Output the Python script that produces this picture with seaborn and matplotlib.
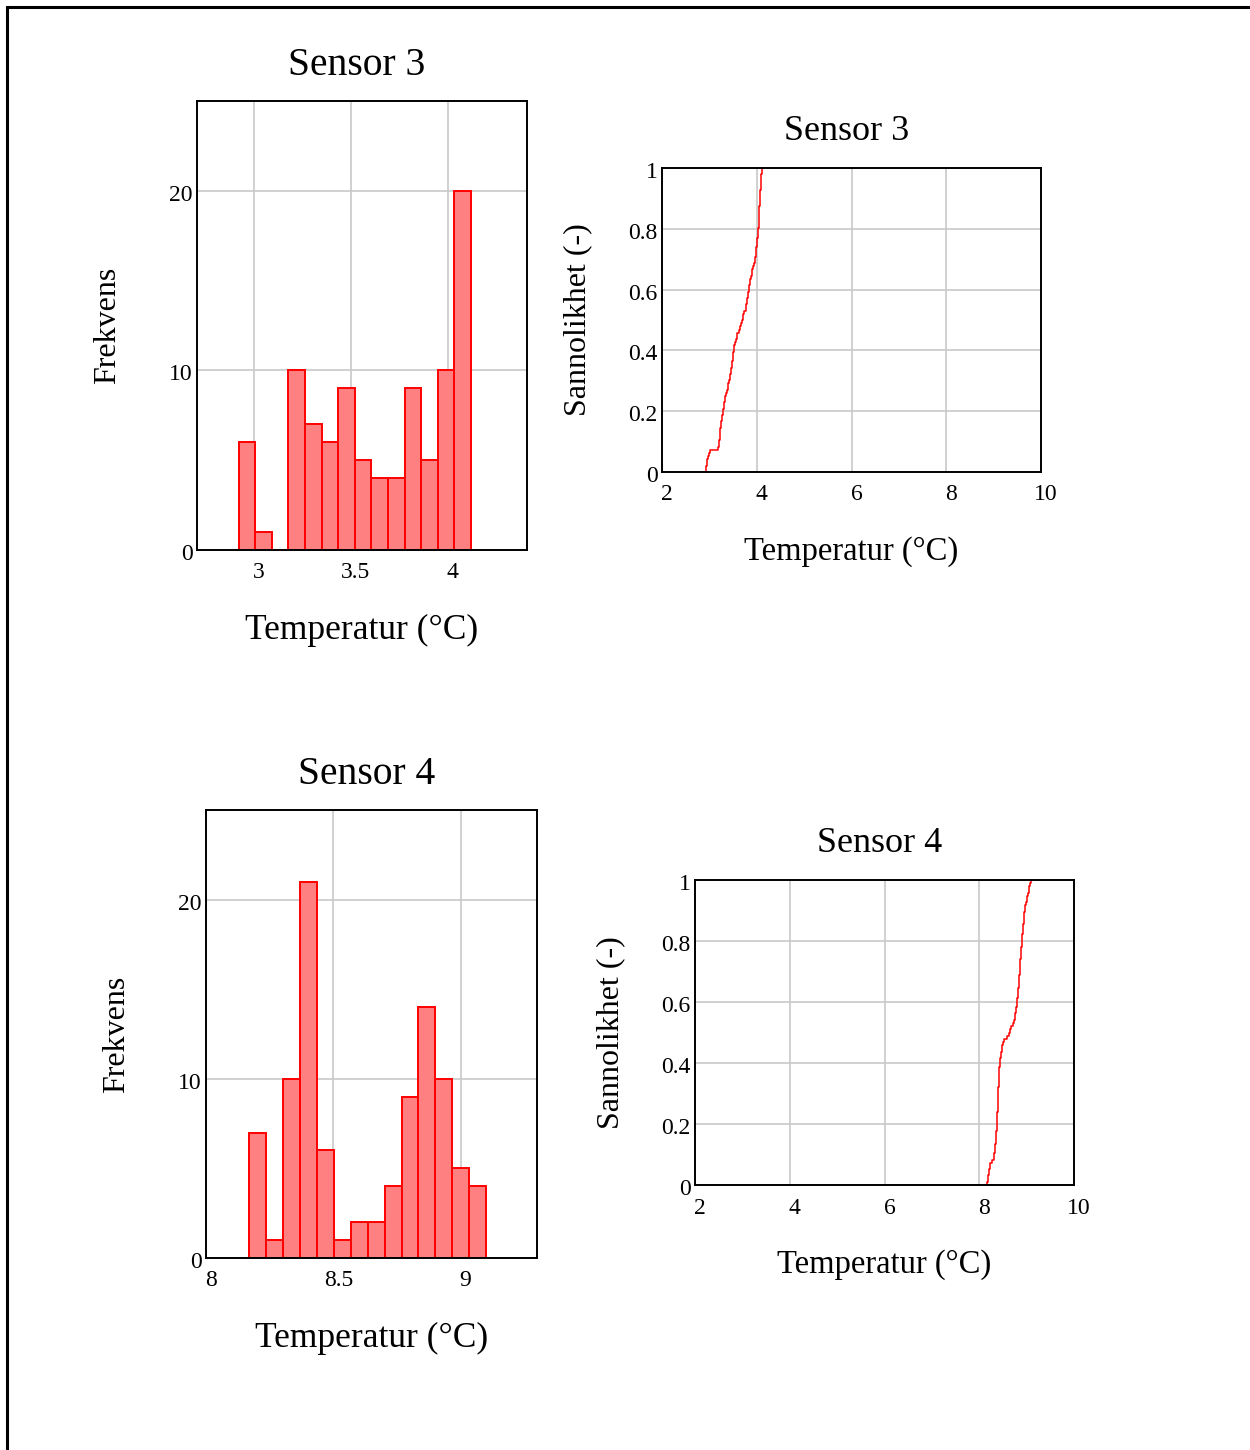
import numpy as np
import pandas as pd
import matplotlib
matplotlib.use("Agg")
import matplotlib.pyplot as plt
import matplotlib.transforms as mtransforms
import seaborn as sns
from matplotlib.ticker import FuncFormatter, FixedLocator
from matplotlib.patches import Rectangle

# ---------------- data ----------------
sensor_names = ["Sensor 3", "Sensor 4"]

sensor3_temps = [
    2.920, 2.935, 2.950, 2.958, 2.975, 2.990,
    3.012,
    3.190, 3.205, 3.210, 3.215, 3.220, 3.225, 3.230, 3.240, 3.250, 3.258,
    3.270, 3.280, 3.290, 3.300, 3.315, 3.330, 3.340,
    3.355, 3.370, 3.385, 3.400, 3.410, 3.425,
    3.440, 3.450, 3.460, 3.470, 3.480, 3.490, 3.500, 3.505, 3.515,
    3.530, 3.545, 3.560, 3.575, 3.590,
    3.620, 3.640, 3.660, 3.680,
    3.700, 3.720, 3.740, 3.765,
    3.780, 3.790, 3.800, 3.810, 3.820, 3.830, 3.840, 3.850, 3.855,
    3.870, 3.890, 3.910, 3.925, 3.940,
    3.955, 3.965, 3.975, 3.985, 3.990, 4.000, 4.010, 4.015, 4.020, 4.030,
    4.036, 4.040, 4.042, 4.045, 4.048, 4.050, 4.055, 4.058, 4.060, 4.065,
    4.070, 4.072, 4.075, 4.080, 4.085, 4.090, 4.095, 4.100, 4.110, 4.120,
]

sensor4_temps = [
    8.170, 8.180, 8.190, 8.200, 8.210, 8.220, 8.230,
    8.270,
    8.310, 8.320, 8.325, 8.330, 8.340, 8.345, 8.350, 8.355, 8.360, 8.365,
    8.372, 8.375, 8.378, 8.380, 8.383, 8.386, 8.390, 8.392, 8.395, 8.398,
    8.400, 8.403, 8.406, 8.410, 8.413, 8.416, 8.420, 8.423, 8.426, 8.430, 8.433,
    8.440, 8.450, 8.460, 8.475, 8.485, 8.495,
    8.530,
    8.590, 8.620,
    8.650, 8.680,
    8.710, 8.730, 8.745, 8.760,
    8.772, 8.780, 8.787, 8.795, 8.800, 8.810, 8.815, 8.822, 8.830,
    8.838, 8.842, 8.846, 8.850, 8.855, 8.860, 8.864, 8.868, 8.872, 8.877,
    8.882, 8.887, 8.892, 8.897,
    8.905, 8.910, 8.917, 8.922, 8.930, 8.935, 8.940, 8.948, 8.955, 8.962,
    8.975, 8.990, 9.000, 9.010, 9.025,
    9.045, 9.060, 9.080, 9.100,
]

hist_bins = 14
hist_xlims = [(2.705, 4.41), (8.0, 9.3)]
hist_xticks = [[3, 3.5, 4], [8, 8.5, 9]]
hist_ylim = (0, 25)
hist_yticks = [0, 10, 20]
ecdf_xlim = (2, 10)
ecdf_xticks = [2, 4, 6, 8, 10]
ecdf_yticks = [0, 0.2, 0.4, 0.6, 0.8, 1]

xlabel_text = "Temperatur (°C)"
hist_ylabel = "Frekvens"
ecdf_ylabel = "Sannolikhet (-)"

# ---------------- style ----------------
sns.set_style("whitegrid")
plt.rcParams.update({
    "axes.edgecolor": "black",
    "axes.linewidth": 1.4,
    "grid.color": "#c8c8c8",
    "grid.linewidth": 1.2,
    "xtick.major.size": 0,
    "ytick.major.size": 0,
    "xtick.color": "black",
    "ytick.color": "black",
    "text.color": "black",
    "axes.labelcolor": "black",
})
plt.rcParams["font.family"] = ["Liberation Serif", "DejaVu Serif"]

W, H = 1250, 1450
fig = plt.figure(figsize=(W / 100, H / 100), dpi=100)
fig.patch.set_facecolor("white")


def px_axes(left, top, right, bottom):
    return fig.add_axes([left / W, 1 - bottom / H, (right - left) / W, (bottom - top) / H])


layout_hist = [(197, 101, 527, 550), (206, 810, 537, 1258)]
layout_ecdf = [(662, 168, 1041, 472), (695, 880, 1074, 1185)]

fmt = FuncFormatter(lambda v, p: f"{v:g}")
datasets = [sensor3_temps, sensor4_temps]

xshift = mtransforms.ScaledTranslation(5 / 100, 0, fig.dpi_scale_trans)
yshift = mtransforms.ScaledTranslation(0, -2 / 100, fig.dpi_scale_trans)


def style_axes(ax, xticks, yticks, ylabel, ylabelpad, xlabel_size):
    ax.xaxis.set_major_locator(FixedLocator(xticks))
    ax.yaxis.set_major_locator(FixedLocator(yticks))
    ax.xaxis.set_major_formatter(fmt)
    ax.yaxis.set_major_formatter(fmt)
    ax.tick_params(axis="x", labelsize=17, pad=9)
    ax.tick_params(axis="y", labelsize=17, pad=3)
    for lab in ax.get_xticklabels():
        lab.set_transform(lab.get_transform() + xshift)
    for lab in ax.get_yticklabels():
        lab.set_transform(lab.get_transform() + yshift)
    ax.set_xlabel(xlabel_text, fontsize=xlabel_size, labelpad=22)
    ax.set_ylabel(ylabel, fontsize=23, labelpad=ylabelpad)
    ax.set_axisbelow(True)
    for s in ax.spines.values():
        s.set_color("black")
        s.set_linewidth(1.4)


for i, name in enumerate(sensor_names):
    df = pd.DataFrame({"temp": datasets[i]})

    # histogram
    ax = px_axes(*layout_hist[i])
    sns.histplot(data=df, x="temp", bins=hist_bins, ax=ax, color="#ff8080",
                 edgecolor="red", linewidth=1.4, alpha=1.0)
    ax.set_xlim(*hist_xlims[i])
    ax.set_ylim(*hist_ylim)
    style_axes(ax, hist_xticks[i], hist_yticks, hist_ylabel, 34, 25.5)
    ax.set_title(name, fontsize=28.5, pad=19, x=0.485)

    # ECDF
    ax2 = px_axes(*layout_ecdf[i])
    sns.ecdfplot(data=df, x="temp", ax=ax2, color="red", linewidth=1.1)
    ax2.set_xlim(*ecdf_xlim)
    ax2.set_ylim(0, 1)
    style_axes(ax2, ecdf_xticks, ecdf_yticks, ecdf_ylabel, 26, 23.5)
    ax2.set_title(name, fontsize=26, pad=20, x=0.488)

# outer frame (left and top edges visible)
fig.patches.append(Rectangle((6.5 / W, -0.1), 1.2, 1.1 - 6.5 / H, fill=False,
                             edgecolor="black", linewidth=2.2,
                             transform=fig.transFigure, figure=fig, clip_on=False))

fig.savefig("out.png", dpi=100, facecolor="white")
